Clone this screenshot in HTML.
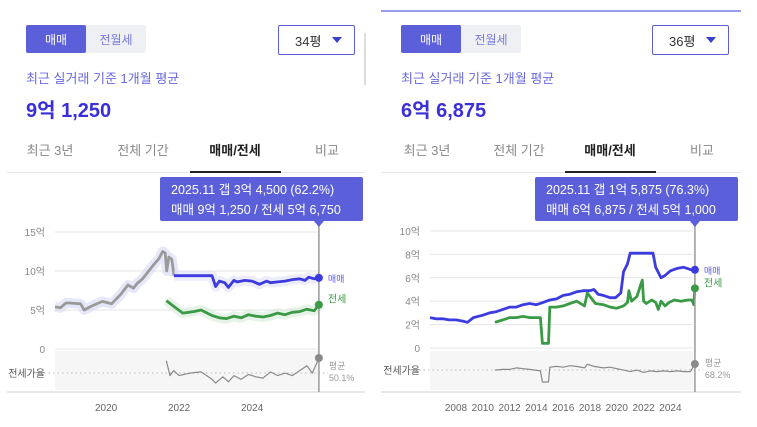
<!DOCTYPE html>
<html><head><meta charset="utf-8">
<style>
*{margin:0;padding:0;box-sizing:border-box}
body{width:757px;height:427px;background:#fff;position:relative;overflow:hidden;font-family:"Liberation Sans","Noto Sans CJK KR",sans-serif}
.a{position:absolute;white-space:nowrap}
.seg{position:absolute;height:28px;display:flex;background:#eef0f3;border-radius:2px}
.seg div{width:60px;display:flex;align-items:center;justify-content:center;font-size:12px;color:#7a7ae0}
.seg .on{background:#5b5fd9;color:#fff;border-radius:2px}
.dd{position:absolute;width:77px;height:30px;border:1.5px solid #5b5fd9;border-radius:2px;font-size:13px;color:#333;display:flex;align-items:center;padding-left:16px}
.dd span{position:absolute;right:12px;top:11px;width:0;height:0;border-left:5px solid transparent;border-right:5px solid transparent;border-top:6px solid #3b3fd0}
.sub{font-size:13px;color:#6a6ae0}
.big{font-size:20px;font-weight:bold;color:#3a2fd8}
.tab{font-size:13px;color:#888;transform:translateX(-50%)}
.tab.on{color:#222;font-weight:bold}
</style></head><body>
<div class="a" style="left:381px;top:10px;width:360px;height:1.5px;background:#9a9cf0"></div>
<div class="a" style="left:364px;top:33px;width:2px;height:52px;background:#ddd"></div>

<div class="seg" style="left:26px;top:25px"><div class="on">매매</div><div>전월세</div></div>
<div class="dd" style="left:278px;top:25px">34평<span></span></div>
<div class="a sub" style="left:26px;top:68px">최근 실거래 기준 1개월 평균</div>
<div class="a big" style="left:26px;top:94px">9억 1,250</div>
<div class="a tab" style="left:50px;top:140px">최근 3년</div>
<div class="a tab" style="left:143px;top:140px">전체 기간</div>
<div class="a tab on" style="left:235px;top:140px">매매/전세</div>
<div class="a tab" style="left:327px;top:140px">비교</div>
<div class="a" style="left:7px;top:172px;width:358px;height:1px;background:#e5e5e5"></div>
<div class="a" style="left:190px;top:171px;width:91px;height:2px;background:#222"></div>

<div class="seg" style="left:401px;top:25px"><div class="on">매매</div><div>전월세</div></div>
<div class="dd" style="left:652px;top:25px">36평<span></span></div>
<div class="a sub" style="left:401px;top:68px">최근 실거래 기준 1개월 평균</div>
<div class="a big" style="left:401px;top:94px">6억 6,875</div>
<div class="a tab" style="left:427px;top:140px">최근 3년</div>
<div class="a tab" style="left:519px;top:140px">전체 기간</div>
<div class="a tab on" style="left:610px;top:140px">매매/전세</div>
<div class="a tab" style="left:702px;top:140px">비교</div>
<div class="a" style="left:381px;top:172px;width:360px;height:1px;background:#e5e5e5"></div>
<div class="a" style="left:565px;top:171px;width:91px;height:2px;background:#222"></div>

<svg id="chart" class="a" style="left:0;top:0" width="757" height="427"></svg>

<script>
// ---- Left chart data ----
const L_preDates=[2018.6,2018.75,2018.9,2019.0,2019.3,2019.4,2019.6,2019.9,2020.15,2020.4,2020.6,2020.75,2020.85,2021.0,2021.1,2021.3,2021.45,2021.55,2021.62,2021.66,2021.72,2021.8,2021.86];
const L_preVals=[5.4,5.3,5.9,5.9,5.8,5.0,5.5,6.1,5.8,7.0,8.2,7.8,8.4,9.0,9.6,10.8,11.6,12.5,12.3,10.0,11.8,11.5,9.4];
const L_saleDates=[2021.86,2022.9,2023.0,2023.1,2023.25,2023.35,2023.5,2023.6,2023.8,2024.0,2024.2,2024.4,2024.5,2024.7,2024.9,2025.1,2025.3,2025.45,2025.55,2025.7,2025.83];
const L_saleVals=[9.4,9.4,8.0,8.7,8.5,7.9,8.8,8.6,8.8,8.7,8.3,8.7,8.5,8.6,8.7,8.9,9.0,8.8,9.2,9.0,9.125];
const L_rentDates=[2021.65,2021.9,2022.1,2022.4,2022.6,2022.9,2023.1,2023.3,2023.5,2023.7,2023.9,2024.1,2024.3,2024.5,2024.7,2024.9,2025.1,2025.3,2025.5,2025.7,2025.83];
const L_rentVals=[6.2,5.3,4.6,4.8,5.0,4.3,4.0,3.9,4.2,4.0,4.4,4.2,4.1,4.3,4.6,4.4,4.7,4.8,5.1,4.9,5.675];
const L_ratioDates=[2021.65,2021.75,2021.85,2022.0,2022.3,2022.6,2022.9,2023.0,2023.2,2023.35,2023.5,2023.7,2023.9,2024.1,2024.3,2024.5,2024.7,2024.9,2025.1,2025.3,2025.5,2025.65,2025.83];
const L_ratioVals=[60,48,52,48,50,51,45,42,47,43,48,45,49,47,46,51,48,50,48,52,56,50,62.2];
const L_yTicks=[0,5,10,15];
const L_yLabels=["0","5억","10억","15억"];
const L_xTicks=[2020,2022,2024];
// ---- Right chart data ----
const R_saleDates=[2006.06,2006.5,2007,2007.5,2008,2008.5,2008.85,2009.3,2010,2010.5,2011,2011.5,2012,2012.5,2013,2013.5,2014,2014.5,2015,2015.5,2016,2016.5,2017,2017.5,2018,2018.3,2018.6,2019,2019.5,2019.9,2020.3,2020.5,2020.8,2021.0,2022.7,2022.9,2023.3,2023.6,2024.0,2024.5,2025.0,2025.5,2025.83];
const R_saleVals=[2.6,2.5,2.5,2.4,2.4,2.3,2.2,2.6,2.8,3.0,3.1,3.3,3.5,3.5,3.7,3.8,3.7,3.9,4.1,4.2,4.5,4.6,4.8,4.9,4.9,5.0,4.6,4.5,4.3,4.3,4.7,6.5,7.2,8.1,8.1,6.9,6.0,6.2,6.6,6.8,6.9,6.7,6.6875];
const R_rentDates=[2010.9,2011.5,2012,2012.5,2013,2013.5,2014.3,2014.45,2014.9,2015.0,2015.5,2016,2016.5,2017,2017.6,2017.8,2018.0,2018.4,2019,2019.5,2020,2020.5,2020.8,2020.9,2021.1,2021.5,2021.9,2022.0,2022.2,2022.6,2022.9,2023.1,2023.3,2023.6,2023.9,2024.3,2024.8,2025.3,2025.6,2025.75,2025.83];
const R_rentVals=[2.2,2.4,2.6,2.6,2.7,2.6,2.6,0.4,0.4,3.5,3.5,3.6,3.8,4.0,3.6,4.7,4.4,3.8,3.7,3.5,3.4,3.6,3.9,4.9,4.0,4.4,5.8,4.0,3.8,4.1,3.9,3.3,4.0,3.6,3.9,4.1,4.0,4.1,4.1,3.7,5.1];
const R_ratioDates=[2010.9,2011.5,2012,2012.5,2013,2013.5,2014.3,2014.45,2014.9,2015.0,2015.5,2016,2016.5,2017,2017.6,2017.8,2018.3,2019,2019.5,2020,2020.5,2021,2021.5,2022,2022.5,2023,2023.5,2024,2024.5,2025,2025.5,2025.83];
const R_ratioVals=[68,69,69,71,70,69,67,52,52,72,73,72,74,73,71,76,73,71,72,70,68,66,68,65,67,66,67,66,67,66,66,76.3];
const R_yTicks=[0,2,4,6,8,10];
const R_yLabels=["0","2억","4억","6억","8억","10억"];
const R_xTicks=[2008,2010,2012,2014,2016,2018,2020,2022,2024];

const NS="http://www.w3.org/2000/svg";
const svg=document.getElementById('chart');
function mk(tag,attrs,parent){const e=document.createElementNS(NS,tag);for(const k in attrs)e.setAttribute(k,attrs[k]);(parent||svg).appendChild(e);return e;}
function txt(s,attrs){const e=mk('text',attrs);e.textContent=s;return e;}

function drawChart(c){
  const g=mk('g',{});
  
  
  const sx=d=>c.x0+(d-c.d0)*c.pxYear;
  const sy=v=>c.y0-v*c.pxUnit;
  const sr=r=>c.ratioBase-(r-c.ratioAvg)*c.pxPct;
  const bg=mk('rect',{x:c.x0,y:351,width:c.x1-c.x0,height:39,fill:'#f6f6f6'},g);
  
  c.yTicks.forEach((t,i)=>{
    const l=mk('line',{x1:c.x0,x2:c.x1,y1:sy(t),y2:sy(t),stroke:'#e6e6e6','stroke-width':1},g);
    
    const tt=txt(c.yLabels[i],{x:c.x0-10,y:sy(t)+4,'font-size':10,fill:'#888','text-anchor':'end'});
    
  });
  const ax=mk('line',{x1:c.ax0,x2:c.ax1,y1:392,y2:392,stroke:'#e0e0e0','stroke-width':1.5},g);
  
  c.xTicks.forEach(t=>{
    const tt=txt(String(t),{x:sx(t),y:411,'font-size':10,fill:'#666','text-anchor':'middle'});
    
  });
  const av=mk('line',{x1:c.x0-20,x2:c.x1+10,y1:c.ratioBase,y2:c.ratioBase,stroke:'#bbb','stroke-dasharray':'1.5,3','stroke-width':1},g);
  
  const rl=txt('전세가율',{x:c.x0-10,y:c.ratioBase+4,'font-size':10,fill:'#555','text-anchor':'end'});
  
  const path=(ds,vs,f)=>ds.map((d,i)=>(i?'L':'M')+sx(d).toFixed(1)+','+f(vs[i]).toFixed(1)).join('');
  function series(name,ds,vs,f,col,w,halo){
    if(halo){const h=mk('path',{d:path(ds,vs,f),fill:'none',stroke:halo,'stroke-width':10,'stroke-linejoin':'round',opacity:0.5},g);
      }
    const p=mk('path',{d:path(ds,vs,f),fill:'none',stroke:col,'stroke-width':w,'stroke-linejoin':'round'},g);
    
  }
  if(c.preDates) series('sale-line-early',c.preDates,c.preVals,sy,'#9a9a9a',2.8,'#cfcff5');
  series('sale-line',c.saleDates,c.saleVals,sy,'#3b3be0',2.8,c.preDates?'#d9d9f8':null);
  series('rent-line',c.rentDates,c.rentVals,sy,'#3a9a45',2.8,c.preDates?'#cfe8d2':null);
  series('ratio-line',c.ratioDates,c.ratioVals,sr,'#8a8a8a',1.2,null);
  const last=c.saleDates[c.saleDates.length-1];
  const cx=sx(last);
  const cl=mk('line',{x1:cx,x2:cx,y1:222,y2:392,stroke:'#999','stroke-width':1.5},g);
  
  const dots=[[sy(c.saleVals[c.saleVals.length-1]),'#3b3be0','sale-end-dot'],[sy(c.rentVals[c.rentVals.length-1]),'#3a9a45','rent-end-dot'],[sr(c.ratioVals[c.ratioVals.length-1]),'#8a8a8a','ratio-end-dot']];
  dots.forEach(d=>{const e=mk('circle',{cx:cx,cy:d[0],r:4,fill:d[1]},g);});
  const s1=txt('매매',{x:cx+9,y:dots[0][0]+4,'font-size':9,fill:'#5b5be0'});
  const s2=txt('전세',{x:cx+9,y:dots[1][0]-2,'font-size':10,fill:'#3a9a45'});
  const s3=txt('평균',{x:cx+10,y:c.ratioBase-4,'font-size':9,fill:'#999'});
  const s4=txt(c.avgText,{x:cx+10,y:c.ratioBase+8,'font-size':9,fill:'#999'});
  const tb=mk('rect',{x:c.tipX,y:177,width:203,height:44,rx:2,fill:'#5b5fd9'},g);
  
  const tp=mk('path',{d:`M${cx-5},221L${cx},227L${cx+5},221Z`,fill:'#5b5fd9'},g);
  
  const t1=txt(c.tip1,{x:c.tipX+11,y:194,'font-size':12.5,fill:'#fff'});
  const t2=txt(c.tip2,{x:c.tipX+11,y:214,'font-size':12.5,fill:'#fff'});
}
drawChart({name:'left-chart',x0:55,x1:318,ax0:7,ax1:365,d0:2018.6,pxYear:36.5,y0:349,pxUnit:7.8,ratioBase:373,ratioAvg:50.1,pxPct:1.24,
  yTicks:L_yTicks,yLabels:L_yLabels,xTicks:L_xTicks,preDates:L_preDates,preVals:L_preVals,saleDates:L_saleDates,saleVals:L_saleVals,
  rentDates:L_rentDates,rentVals:L_rentVals,ratioDates:L_ratioDates,ratioVals:L_ratioVals,avgText:'50.1%',tipX:160,
  tip1:'2025.11  갭 3억 4,500 (62.2%)',tip2:'매매 9억 1,250 / 전세 5억 6,750'});
drawChart({name:'right-chart',x0:430,x1:693,ax0:381,ax1:741,d0:2006.06,pxYear:13.4,y0:348,pxUnit:11.7,ratioBase:370,ratioAvg:68.2,pxPct:0.74,
  yTicks:R_yTicks,yLabels:R_yLabels,xTicks:R_xTicks,saleDates:R_saleDates,saleVals:R_saleVals,
  rentDates:R_rentDates,rentVals:R_rentVals,ratioDates:R_ratioDates,ratioVals:R_ratioVals,avgText:'68.2%',tipX:535,
  tip1:'2025.11  갭 1억 5,875 (76.3%)',tip2:'매매 6억 6,875 / 전세 5억 1,000'});
</script>
</body></html>
